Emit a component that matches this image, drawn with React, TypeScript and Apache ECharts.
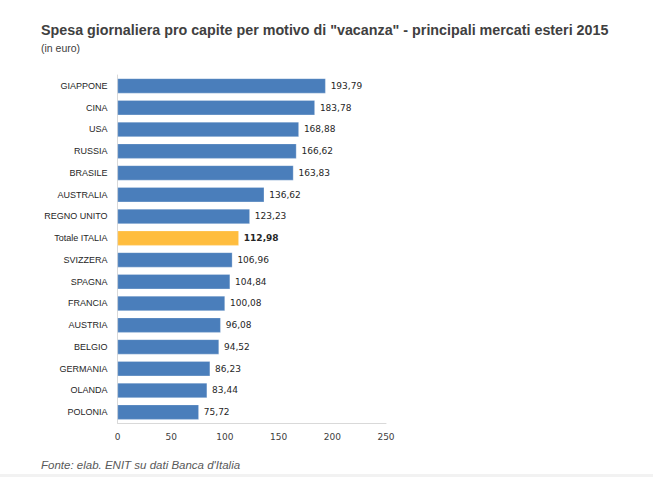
import React, { useEffect, useRef } from "react";
import * as echarts from "echarts";

const categories = [
  "GIAPPONE", "CINA", "USA", "RUSSIA", "BRASILE", "AUSTRALIA", "REGNO UNITO",
  "Totale ITALIA", "SVIZZERA", "SPAGNA", "FRANCIA", "AUSTRIA", "BELGIO",
  "GERMANIA", "OLANDA", "POLONIA",
];
const values = [
  193.79, 183.78, 168.88, 166.62, 163.83, 136.62, 123.23, 112.98, 106.96,
  104.84, 100.08, 96.08, 94.52, 86.23, 83.44, 75.72,
];
const highlight = "Totale ITALIA";
const xTicks = [0, 50, 100, 150, 200, 250];

export default function App() {
  const ref = useRef<HTMLDivElement>(null);
  useEffect(() => {
    if (!ref.current) return;
    const chart = echarts.init(ref.current, undefined, { renderer: "svg" });
    const cats = [...categories].reverse();
    const vals = [...values].reverse();
    chart.setOption({
      animation: false,
      backgroundColor: "#ffffff",
      title: [
        {
          text: 'Spesa giornaliera pro capite per motivo di "vacanza" - principali mercati esteri 2015',
          left: 41,
          top: 23,
          padding: 0,
          textStyle: { fontFamily: "Liberation Sans", fontSize: 14.3, fontWeight: "bold", color: "#404040" },
        },
        {
          text: "(in euro)",
          left: 41,
          top: 42,
          padding: 0,
          textStyle: { fontFamily: "Liberation Sans", fontSize: 10.5, fontWeight: "normal", color: "#404040" },
        },
        {
          text: "Fonte: elab. ENIT su dati Banca d'Italia",
          left: 41,
          top: 459,
          padding: 0,
          textStyle: { fontFamily: "Liberation Sans", fontSize: 11.5, fontWeight: "normal", fontStyle: "italic", color: "#595959" },
        },
      ],
      graphic: [
        { type: "rect", shape: { x: 0, y: 474, width: 653, height: 3 }, style: { fill: "#f2f2f2" } },
      ],
      grid: { left: 117.5, top: 75, width: 268.5, height: 348, containLabel: false },
      xAxis: {
        type: "value",
        min: xTicks[0],
        max: xTicks[xTicks.length - 1],
        interval: 50,
        axisLine: { show: true, lineStyle: { color: "#d9d9d9", width: 1 } },
        axisTick: { show: false },
        splitLine: { show: false },
        axisLabel: { fontFamily: "DejaVu Sans", fontSize: 9, color: "#404040", margin: 9 },
      },
      yAxis: {
        type: "category",
        data: cats,
        axisLine: { show: true, lineStyle: { color: "#d9d9d9", width: 1 } },
        axisTick: { show: false },
        axisLabel: {
          fontFamily: "Liberation Sans",
          fontSize: 9,
          color: "#262626",
          margin: 10,
        },
      },
      series: [
        {
          type: "bar",
          data: vals.map((v, i) => ({
            value: v,
            itemStyle: { color: cats[i] === highlight ? "#ffbd3e" : "#4a7ebb" },
            label: cats[i] === highlight ? { fontWeight: "bold" } : undefined,
          })),
          barWidth: 15,
          itemStyle: { borderColor: "rgba(255,255,255,0.5)", borderWidth: 0.5 },
          label: {
            show: true,
            position: "right",
            distance: 5,
            fontFamily: "DejaVu Sans",
            fontSize: 9,
            color: "#262626",
            formatter: (p: any) => p.value.toFixed(2).replace(".", ","),
          },
        },
      ],
    });
    return () => chart.dispose();
  }, []);
  return <div ref={ref} style={{ position: "fixed", left: 0, top: 0, width: 653, height: 477 }} />;
}
